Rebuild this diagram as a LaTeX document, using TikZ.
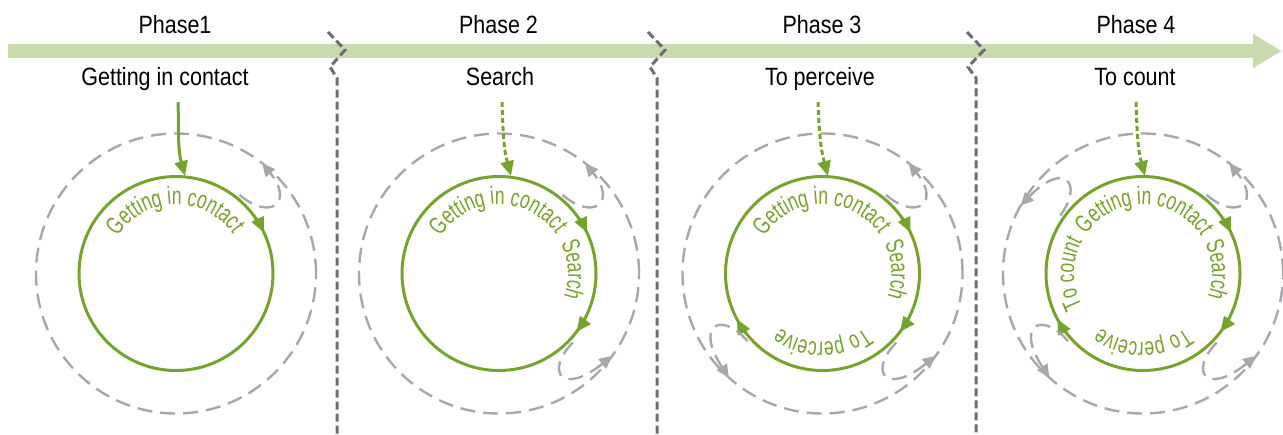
\documentclass[tikz,border=0pt]{standalone}
\usepackage{fontspec}
\setmainfont[FakeStretch=0.86]{Liberation Sans}
\newfontfamily\circfont[FakeStretch=0.7]{Liberation Sans}
\usepackage{tikz}
\usetikzlibrary{arrows.meta,calc,decorations.text}
\definecolor{barclr}{HTML}{C9DAAF}
\definecolor{loopgreen}{HTML}{76A22E}
\definecolor{ringgrey}{HTML}{A6A8AB}
\definecolor{sepgrey}{HTML}{6D6E71}
\newcommand{\circtxt}{\circfont\fontsize{12.5}{14}\selectfont\color{loopgreen}}

\begin{document}
\begin{tikzpicture}[x=0.5pt, y=0.5pt,
    lbl/.style={font=\fontsize{12.5}{15}\selectfont, anchor=base, inner sep=0pt},
    bar/.style={draw=barclr, line width=7pt, -{Triangle[length=14.5pt, width=16pt]}},
    sep/.style={draw=sepgrey, line width=1.5pt, dash pattern=on 4pt off 2pt},
    ring/.style={draw=ringgrey, line width=1.2pt, dash pattern=on 7.5pt off 4pt},
    cycl/.style={draw=loopgreen, line width=1.5pt},
    tipg/.style={draw=loopgreen, line width=1.5pt, -{Triangle[length=7.5pt, width=6.5pt]}},
    entry/.style={draw=loopgreen, line width=1.5pt, -{Triangle[length=7.5pt, width=6.5pt]}},
    dotentry/.style={entry, dash pattern=on 2.5pt off 1.5pt},
    fb/.style={ring, -{Triangle[length=6.5pt, width=6pt]}},
    circtext/.style={decorate, decoration={text along path, text align=center, text={|\circtxt|#1}}}]
    \useasboundingbox (0,0) rectangle (1283,-434);

    \coordinate (tl) at (8,-51);
    \coordinate (tr) at (1282,-51);
    \draw[bar] (tl) -- (tr);

    \draw[sep] (328,-32) -- (345,-50) -- (330,-67) -- (337,-78) -- (337,-434);
    \draw[sep] (648,-32) -- (665,-50) -- (650,-67) -- (657,-78) -- (657,-434);
    \draw[sep] (967,-32) -- (984,-50) -- (968,-67) -- (976,-78) -- (976,-434);

    \node[lbl] (ph1) at (175,-33) {Phase1};
    \node[lbl] (ph2) at (498.5,-33) {Phase 2};
    \node[lbl] (ph3) at (822,-33) {Phase 3};
    \node[lbl] (ph4) at (1136,-33) {Phase 4};

    \node[lbl] (sub1) at (165,-85) {Getting in contact};
    \node[lbl] (sub2) at (500,-85) {Search};
    \node[lbl] (sub3) at (820,-85) {To perceive};
    \node[lbl] (sub4) at (1135,-85) {To count};

    \coordinate (c1) at (176,-273.5);
    \coordinate (c2) at (499,-273.5);
    \coordinate (c3) at (822.5,-273.5);
    \coordinate (c4) at (1143,-273.5);

    \coordinate (in1) at (178,-102);
    \coordinate (hit1) at (185,-176);
    \coordinate (in2) at (502,-102);
    \coordinate (hit2) at (511,-176);
    \coordinate (in3) at (818,-102);
    \coordinate (hit3) at (828,-176);
    \coordinate (in4) at (1136,-102);
    \coordinate (hit4) at (1145,-176);

    \draw[ring] (c1) circle[radius=70pt];
    \draw[cycl] (c1) circle[radius=48.5pt];
    \draw[entry] (in1) to[out=-88, in=105] (hit1);
    \draw[tipg] ($(c1)+(35:48.5pt)$) arc[start angle=35, end angle=25, radius=48.5pt];
    \path[circtext={Getting in contact}] ($(c1)+(170:34.5pt)$) arc[start angle=170, end angle=12, radius=34.5pt];
    \draw[fb] ($(c1)+(51:50.5pt)$) .. controls ($(c1)+(29:54pt)$) and ($(c1)+(31:69pt)$) .. ($(c1)+(52:70pt)$);

    \draw[ring] (c2) circle[radius=70pt];
    \draw[cycl] (c2) circle[radius=48.5pt];
    \draw[dotentry] (in2) to[out=-88, in=105] (hit2);
    \draw[tipg] ($(c2)+(35:48.5pt)$) arc[start angle=35, end angle=25, radius=48.5pt];
    \draw[tipg] ($(c2)+(-27:48.5pt)$) arc[start angle=-27, end angle=-37, radius=48.5pt];
    \path[circtext={Getting in contact}] ($(c2)+(170:34.5pt)$) arc[start angle=170, end angle=12, radius=34.5pt];
    \path[circtext={Search}] ($(c2)+(40:34.5pt)$) arc[start angle=40, end angle=-34, radius=34.5pt];
    \draw[fb] ($(c2)+(51:50.5pt)$) .. controls ($(c2)+(29:54pt)$) and ($(c2)+(31:69pt)$) .. ($(c2)+(52:70pt)$);
    \draw[fb] ($(c2)+(-43:50.5pt)$) .. controls ($(c2)+(-65:54pt)$) and ($(c2)+(-63:69pt)$) .. ($(c2)+(-36:70pt)$);

    \draw[ring] (c3) circle[radius=70pt];
    \draw[cycl] (c3) circle[radius=48.5pt];
    \draw[dotentry] (in3) to[out=-88, in=105] (hit3);
    \draw[tipg] ($(c3)+(35:48.5pt)$) arc[start angle=35, end angle=25, radius=48.5pt];
    \draw[tipg] ($(c3)+(-27:48.5pt)$) arc[start angle=-27, end angle=-37, radius=48.5pt];
    \draw[tipg] ($(c3)+(218:48.5pt)$) arc[start angle=218, end angle=208, radius=48.5pt];
    \path[circtext={Getting in contact}] ($(c3)+(170:34.5pt)$) arc[start angle=170, end angle=12, radius=34.5pt];
    \path[circtext={Search}] ($(c3)+(40:34.5pt)$) arc[start angle=40, end angle=-34, radius=34.5pt];
    \path[circtext={To perceive}] ($(c3)+(-30:34.5pt)$) arc[start angle=-30, end angle=-150, radius=34.5pt];
    \draw[fb] ($(c3)+(51:50.5pt)$) .. controls ($(c3)+(29:54pt)$) and ($(c3)+(31:69pt)$) .. ($(c3)+(52:70pt)$);
    \draw[fb] ($(c3)+(-43:50.5pt)$) .. controls ($(c3)+(-65:54pt)$) and ($(c3)+(-63:69pt)$) .. ($(c3)+(-36:70pt)$);
    \draw[fb] ($(c3)+(222:50.5pt)$) .. controls ($(c3)+(200:54pt)$) and ($(c3)+(202:69pt)$) .. ($(c3)+(228:70pt)$);

    \draw[ring] (c4) circle[radius=70pt];
    \draw[cycl] (c4) circle[radius=48.5pt];
    \draw[dotentry] (in4) to[out=-88, in=105] (hit4);
    \draw[tipg] ($(c4)+(35:48.5pt)$) arc[start angle=35, end angle=25, radius=48.5pt];
    \draw[tipg] ($(c4)+(-27:48.5pt)$) arc[start angle=-27, end angle=-37, radius=48.5pt];
    \draw[tipg] ($(c4)+(218:48.5pt)$) arc[start angle=218, end angle=208, radius=48.5pt];
    \path[circtext={Getting in contact}] ($(c4)+(168:34.5pt)$) arc[start angle=168, end angle=10, radius=34.5pt];
    \path[circtext={Search}] ($(c4)+(40:34.5pt)$) arc[start angle=40, end angle=-34, radius=34.5pt];
    \path[circtext={To perceive}] ($(c4)+(-30:34.5pt)$) arc[start angle=-30, end angle=-150, radius=34.5pt];
    \path[circtext={To count}] ($(c4)+(220:34.5pt)$) arc[start angle=220, end angle=140, radius=34.5pt];
    \draw[fb] ($(c4)+(51:50.5pt)$) .. controls ($(c4)+(29:54pt)$) and ($(c4)+(31:69pt)$) .. ($(c4)+(52:70pt)$);
    \draw[fb] ($(c4)+(-43:50.5pt)$) .. controls ($(c4)+(-65:54pt)$) and ($(c4)+(-63:69pt)$) .. ($(c4)+(-36:70pt)$);
    \draw[fb] ($(c4)+(222:50.5pt)$) .. controls ($(c4)+(200:54pt)$) and ($(c4)+(202:69pt)$) .. ($(c4)+(228:70pt)$);
    \draw[fb] ($(c4)+(145:50.5pt)$) .. controls ($(c4)+(123:54pt)$) and ($(c4)+(125:69pt)$) .. ($(c4)+(151:70pt)$);
\end{tikzpicture}
\end{document}
